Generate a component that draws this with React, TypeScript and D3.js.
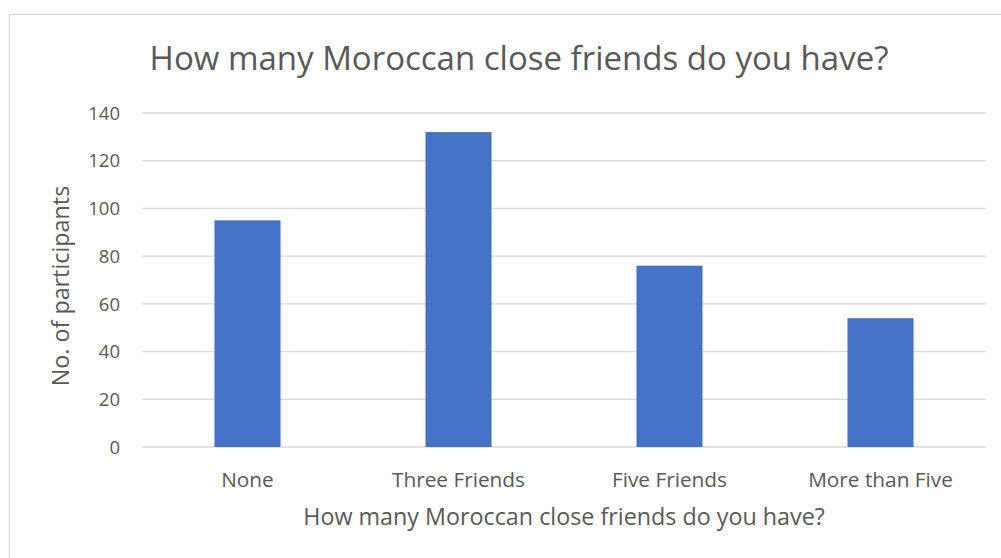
import React from "react";
import * as d3 from "d3";

const categories = ["None", "Three Friends", "Five Friends", "More than Five"];
const values = [95, 132, 76, 54];
const yTicks = [0, 20, 40, 60, 80, 100, 120, 140];
const title = "How many Moroccan close friends do you have?";
const xTitle = "How many Moroccan close friends do you have?";
const yTitle = "No. of participants";

const W = 1001;
const H = 558;
const plot = { left: 142, right: 986, top: 113, bottom: 447 };
const FONT = "'Open Sans', 'Noto Sans', sans-serif";
const TEXT = "#595959";

export default function App() {
  const x = d3
    .scaleBand<string>()
    .domain(categories)
    .range([plot.left, plot.right])
    .paddingInner(0.687)
    .paddingOuter(0.3435);
  const y = d3.scaleLinear().domain([0, 140]).range([plot.bottom, plot.top]);

  return (
    <svg
      width={W}
      height={H}
      style={{ position: "absolute", left: 0, top: 0, background: "#fff" }}
      fontFamily={FONT}
    >
      <rect x={9.5} y={14.5} width={1000} height={600} fill="#fff" stroke="#D9D9D9" strokeWidth={1.3} />
      <text x={519} y={70} textAnchor="middle" fontSize={33} fill={TEXT}>
        {title}
      </text>
      {yTicks.map((t) => (
        <g key={t}>
          <line x1={plot.left} x2={plot.right} y1={y(t)} y2={y(t)} stroke="#D9D9D9" strokeWidth={1.3} />
          <text x={120} y={y(t)} dy="0.36em" textAnchor="end" fontSize={18.5} fill={TEXT}>
            {t}
          </text>
        </g>
      ))}
      {categories.map((c, i) => (
        <rect
          key={c}
          x={x(c)}
          y={y(values[i])}
          width={x.bandwidth()}
          height={y(0) - y(values[i])}
          fill="#4472C4"
        />
      ))}
      {categories.map((c) => (
        <text key={c} x={(x(c) as number) + x.bandwidth() / 2} y={487} textAnchor="middle" fontSize={20.8} fill={TEXT}>
          {c}
        </text>
      ))}
      <text x={564} y={525} textAnchor="middle" fontSize={23.3} fill={TEXT}>
        {xTitle}
      </text>
      <text
        transform={`translate(69,286) rotate(-90)`}
        textAnchor="middle"
        fontSize={23.3}
        fill={TEXT}
      >
        {yTitle}
      </text>
    </svg>
  );
}
